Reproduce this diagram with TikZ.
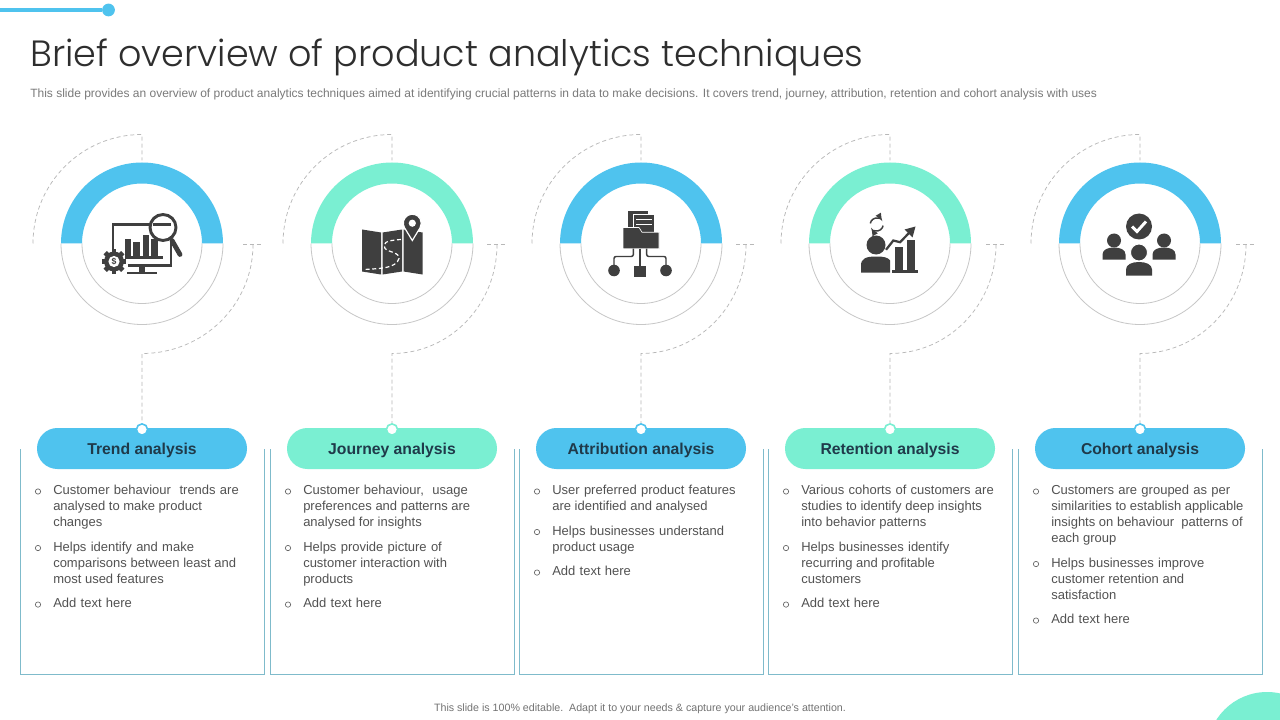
\documentclass[tikz,border=0pt]{standalone}
\usepackage{fontspec}
\setmainfont{Liberation Sans}
\newfontfamily\titlefont{Poppins Light}
\usetikzlibrary{calc,positioning}
\definecolor{skyblue}{HTML}{4FC3EE}
\definecolor{mint}{HTML}{7AEFD2}
\definecolor{icondark}{HTML}{3F3F3F}
\definecolor{boxedge}{HTML}{7FBBCB}
\definecolor{pilltext}{HTML}{1F3A4A}
\newcommand{\itemstart}{\spaceskip=0.33em\relax\strut}
\tikzset{
  ringline/.style={draw=black!22,line width=0.6pt},
  dashline/.style={draw=black!28,line width=0.55pt,dash pattern=on 3pt off 2.2pt},
  pill/.style={minimum width=157.5pt,minimum height=30.75pt,rounded corners=15.3pt,inner sep=0pt,
    text height=8.6pt,text depth=0pt,text=pilltext,
    font=\fontsize{11.8}{14}\selectfont\bfseries},
  pindot/.style={circle,fill=white,line width=1.2pt,minimum size=8.4pt,inner sep=0pt},
  itemtext/.style={anchor=north west,align=left,inner sep=0pt,text=black!68,
    font=\fontsize{9.75}{12}\selectfont},
  itemnext/.style={below=6pt of #1.south west,anchor=north west},
  itemmark/.style={circle,draw=black!60,line width=0.5pt,minimum size=4pt,inner sep=0pt},
  icon/.style={fill=icondark,draw=none}
}
\begin{document}
\begin{tikzpicture}[x=0.75pt,y=-0.75pt]
\useasboundingbox (0,0) rectangle (1280,720);
\clip (0,0) rectangle (1280,720);
\fill[white] (0,0) rectangle (1280,720);
% header
\coordinate (barstart) at (0,10);
\node[circle,fill=skyblue,minimum size=9.6pt,inner sep=0pt] (bardot) at (108.5,10) {};
\draw[skyblue,line width=2.6pt] (barstart) -- (bardot);
\node[anchor=base west,inner sep=0pt,text=black!82,font=\titlefont\fontsize{27.4}{32}\selectfont] (title) at (30,67) {Brief overview of product analytics techniques};
\node[anchor=west,inner sep=0pt,text=black!52,font=\fontsize{9}{11}\selectfont] (subtitle) at (30,94) {This slide provides an overview of product analytics techniques aimed at identifying crucial patterns in data to make decisions. It covers trend, journey, attribution, retention and cohort analysis with uses};
% columns
\foreach \n/\cx/\bl/\br/\rx/\col/\name in {1/142/20.5/264.5/111/skyblue/Trend analysis,2/392/270.5/514.5/105/mint/Journey analysis,3/641/519.5/763.5/105/skyblue/Attribution analysis,4/890/768.5/1012.5/106/mint/Retention analysis,5/1140/1018.5/1262.5/106/skyblue/Cohort analysis}{
  \coordinate (C\n) at (\cx,243.5);
  \fill[\col] (C\n) ++(-81,0) arc[start angle=180,end angle=360,radius=81] -- ++(-21,0) arc[start angle=360,end angle=180,radius=60] -- cycle;
  \draw[ringline] (C\n) ++(-81,0) arc[start angle=180,end angle=0,radius=81];
  \draw[ringline] (C\n) ++(-60,0) arc[start angle=180,end angle=0,radius=60];
  \draw[boxedge,line width=0.75pt] (\bl,449) -- (\bl,674.5) -- (\br,674.5) -- (\br,449);
  \node[pill,fill=\col] (P\n) at (\cx,448.5) {\name};
  \node[pindot,draw=\col] (D\n) at (\cx,429.5) {};
  \draw[dashline] (C\n) ++(-109,0) arc[start angle=180,end angle=270,radius=109] -- ++(0,26);
  \draw[dashline] (C\n) ++(\rx-10,1) -- ++(20,0);
  \draw[dashline] (C\n) ++(\rx,1) arc[start angle=0,end angle=90,x radius=\rx,y radius=109] -- (D\n);
}
% bullet text
\node[itemtext] (A1) at (53,483) {\itemstart Customer behaviour\ \ trends are\\analysed to make product\\changes\strut};
\node[itemtext,itemnext=A1] (A2) {\itemstart Helps identify and make\\comparisons between least and\\most used features\strut};
\node[itemtext,itemnext=A2] (A3) {\itemstart Add text here\strut};
\node[itemtext] (B1) at (303,483) {\itemstart Customer behaviour,\ \ usage\\preferences and patterns are\\analysed for insights\strut};
\node[itemtext,itemnext=B1] (B2) {\itemstart Helps provide picture of\\customer interaction with\\products\strut};
\node[itemtext,itemnext=B2] (B3) {\itemstart Add text here\strut};
\node[itemtext] (E1) at (552,483) {\itemstart User preferred product features\\are identified and analysed\strut};
\node[itemtext,itemnext=E1] (E2) {\itemstart Helps businesses understand\\product usage\strut};
\node[itemtext,itemnext=E2] (E3) {\itemstart Add text here\strut};
\node[itemtext] (F1) at (801,483) {\itemstart Various cohorts of customers are\\studies to identify deep insights\\into behavior patterns\strut};
\node[itemtext,itemnext=F1] (F2) {\itemstart Helps businesses identify\\recurring and profitable\\customers\strut};
\node[itemtext,itemnext=F2] (F3) {\itemstart Add text here\strut};
\node[itemtext] (G1) at (1051,483) {\itemstart Customers are grouped as per\\similarities to establish applicable\\insights on behaviour\ \ patterns of\\each group\strut};
\node[itemtext,itemnext=G1] (G2) {\itemstart Helps businesses improve\\customer retention and\\satisfaction\strut};
\node[itemtext,itemnext=G2] (G3) {\itemstart Add text here\strut};
\foreach \t in {A1,A2,A3,B1,B2,B3,E1,E2,E3,F1,F2,F3,G1,G2,G3}
  \node[itemmark] (M\t) at ($(\t.north west)+(-15,8.5)$) {};
% trend icon
\begin{scope}[shift={(C1)}]
  \draw[icondark,line width=2.2pt] (-29,10) -- (-29,-19) -- (29,-19) -- (29,22) -- (-14,22);
  \fill[icon] (-3,22) rectangle (3,28);
  \fill[icon] (-15,28) -- (15,28) -- (15,30) -- (-15,30) -- cycle;
  \fill[icon] (-17,-4) rectangle (-11,12);
  \fill[icon] (-9,-1) rectangle (-2,12);
  \fill[icon] (1,-8) rectangle (7,12);
  \fill[icon] (9,-4) rectangle (16,12);
  \fill[icon] (-17,12) rectangle (21,15);
  \draw[icondark,line width=3.6pt,line cap=round] (30,-3) -- (38,11);
  \draw[icondark,fill=white,line width=2.2pt] (21,-16) circle[radius=13];
  \draw[icondark,line width=2.2pt] (11,-19) -- (29,-19);
  \begin{scope}[shift={(-28,18)}]
    \foreach \a in {0,45,...,315}
      \fill[icon,rotate=\a] (-2.3,-12.4) rectangle (2.3,-7);
    \fill[icon] (0,0) circle[radius=10];
    \fill[white] (0,0) circle[radius=5.6];
    \node[inner sep=0pt,text=icondark,font=\fontsize{6.5}{7}\selectfont\bfseries] (dollar) at (0,0) {\$};
  \end{scope}
\end{scope}
% journey icon
\begin{scope}[shift={(C2)}]
  \fill[icon] (-30,-14) -- (-11,-11) -- (-11,31) -- (-30,28) -- cycle;
  \fill[icon] (-9.5,-11) -- (10,-14) -- (10,28) -- (-9.5,31) -- cycle;
  \fill[icon] (11.5,-14) -- (30.5,-11) -- (30.5,31) -- (11.5,28) -- cycle;
  \draw[white,line width=0.9pt,dash pattern=on 3pt off 2pt] (9,-4) .. controls (-8,-3) and (-9,0) .. (-7,5) .. controls (-3,9) and (8,9) .. (7,15) .. controls (4,25) and (-12,25) .. (-28,26);
  \fill[icon,draw=white,line width=0.9pt] (20.3,-3) -- (12.5,-15.8) arc[start angle=150,end angle=390,radius=9] -- cycle;
  \fill[white] (20.3,-20.3) circle[radius=3.6];
\end{scope}
% attribution icon
\begin{scope}[shift={(C3)}]
  \fill[icon] (-13,-32) rectangle (7,-14);
  \fill[white] (-8.5,-29.5) rectangle (14,-10);
  \fill[icon] (-7.5,-28.5) rectangle (13,-11);
  \draw[white,line width=0.7pt] (-5,-24) -- (11,-24) (-5,-19.5) -- (11,-19.5);
  \fill[icon,draw=white,line width=0.5pt] (-18,5.3) -- (-18,-16) -- (-2,-16) -- (1,-11.3) -- (18,-11.3) -- (18,5.3) -- cycle;
  \draw[icondark,line width=1.1pt] (-1,5) -- (-1,22);
  \draw[icondark,line width=1.1pt,rounded corners=1.5pt] (-7.7,5) -- (-7.7,13) -- (-27,13) -- (-27,22);
  \draw[icondark,line width=1.1pt,rounded corners=1.5pt] (5.7,5) -- (5.7,13) -- (25,13) -- (25,22);
  \fill[icon] (-27,27) circle[radius=5.8];
  \fill[icon] (-7,22) rectangle (5,33);
  \fill[icon] (25,27) circle[radius=5.8];
\end{scope}
% retention icon
\begin{scope}[shift={(C4)}]
  \draw[icondark,line width=1.1pt,-latex] (-19.7,-20.1) arc[start angle=190,end angle=330,radius=6.5];
  \draw[icondark,line width=1.1pt,-latex] (-6.9,-17.9) arc[start angle=10,end angle=150,radius=6.5];
  \fill[icon] (-14,1.5) circle[radius=9.5];
  \fill[icon] (-29,29) -- (-29,22) .. controls (-29,15) and (-24,13) .. (-14,13) .. controls (-6,13) and (-2,14) .. (0,17) -- (0,29) -- cycle;
  \fill[icon] (5,3.7) rectangle (12.7,28);
  \fill[icon] (17.3,-3.7) rectangle (25.3,28);
  \fill[icon] (1.7,26.5) rectangle (28,29);
  \draw[icondark,line width=1.7pt] (-4,6.3) -- (3.3,-3) -- (10,-1.3) -- (21,-12.5);
  \fill[icon] (25.5,-17) -- (22.5,-6) -- (14.5,-14) -- cycle;
\end{scope}
% cohort icon
\begin{scope}[shift={(C5)}]
  \fill[icon] (-1,-17) circle[radius=13];
  \draw[white,line width=2.2pt] (-8,-17) -- (-3,-12) -- (6,-22);
  \foreach \px in {-26,24}{
    \fill[icon] (\px,-3) circle[radius=7];
    \fill[icon] (\px-11.5,16) -- (\px-11.5,11) .. controls (\px-11.5,6) and (\px-6,4) .. (\px,4) .. controls (\px+6,4) and (\px+11.5,6) .. (\px+11.5,11) -- (\px+11.5,16) -- cycle;
  }
  \fill[icon,draw=white,line width=0.7pt] (-1,9) circle[radius=8.5];
  \fill[icon] (-14,32) -- (-14,26) .. controls (-14,21) and (-8,18.5) .. (-1,18.5) .. controls (6,18.5) and (12,21) .. (12,26) -- (12,32) -- cycle;
\end{scope}
% footer
\node[inner sep=0pt,text=black!55,font=\fontsize{8}{10}\selectfont] (footer) at (640,709) {This slide is 100\% editable.\ \ Adapt it to your needs \& capture your audience's attention.};
\fill[mint] (1267,752) circle[radius=60];
\end{tikzpicture}
\end{document}
